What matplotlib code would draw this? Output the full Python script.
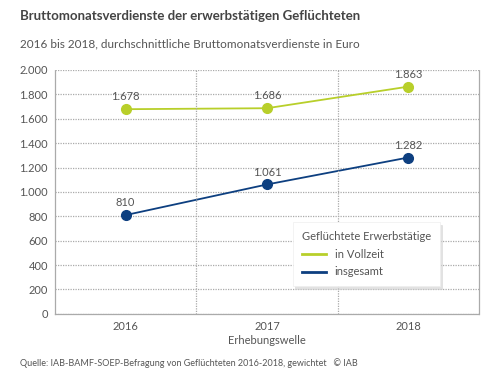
import numpy as np
import matplotlib
matplotlib.use("Agg")
import matplotlib.pyplot as plt
from matplotlib.ticker import FuncFormatter

matplotlib.rcParams.update({
    "font.family": "Lato",
    "font.size": 8,
    "text.color": "#555555",
    "axes.labelcolor": "#555555",
    "xtick.color": "#555555",
    "ytick.color": "#555555",
})

years = ["2016", "2017", "2018"]
vollzeit = [1678, 1686, 1863]
insgesamt = [810, 1061, 1282]
y_ticks = [0, 200, 400, 600, 800, 1000, 1200, 1400, 1600, 1800, 2000]

GREEN = "#b8cf2a"
BLUE = "#0d3f80"
GRID = "#aaaaaa"


def de_fmt(v, pos=None):
    return f"{int(v):,}".replace(",", ".")


fig = plt.figure(figsize=(5, 3.8), dpi=100)
ax = fig.add_axes([0.11, 0.174, 0.848, 0.642])

x = np.arange(len(years))
ax.plot(x, vollzeit, color=GREEN, linewidth=1.3, marker="o", markersize=7, label="in Vollzeit")
ax.plot(x, insgesamt, color=BLUE, linewidth=1.3, marker="o", markersize=7, label="insgesamt")

for xi, v in zip(x, vollzeit):
    ax.annotate(de_fmt(v), (xi, v), xytext=(0, 5), textcoords="offset points",
                ha="center", va="bottom", fontsize=8)
for xi, v in zip(x, insgesamt):
    ax.annotate(de_fmt(v), (xi, v), xytext=(0, 5), textcoords="offset points",
                ha="center", va="bottom", fontsize=8)

ax.set_xlim(-0.5, 2.5)
ax.set_ylim(0, 2000)
ax.set_yticks(y_ticks)
ax.yaxis.set_major_formatter(FuncFormatter(de_fmt))
ax.set_xticks(x)
ax.set_xticklabels(years)
ax.tick_params(length=0, labelsize=8, pad=5)
ax.set_xlabel("Erhebungswelle", fontsize=8, labelpad=2)

ax.grid(axis="y", color=GRID, linestyle=(0, (1, 1)), linewidth=0.9)
for b in [0.5, 1.5]:
    ax.axvline(b, color=GRID, linestyle=(0, (1, 1)), linewidth=0.9)
for side in ["left", "right", "bottom"]:
    ax.spines[side].set_color(GRID)
    ax.spines[side].set_linestyle((0, (1, 1)))
    ax.spines[side].set_linewidth(0.9)
ax.spines["top"].set_visible(False)
ax.set_axisbelow(True)

leg = ax.legend(title="Geflüchtete Erwerbstätige", loc="lower right",
                bbox_to_anchor=(0.92, 0.09), fontsize=8, title_fontsize=8,
                frameon=True, fancybox=False,
                shadow={"color": "#d0d0d0", "alpha": 0.6, "ox": 2, "oy": -2},
                handlelength=2.2, borderpad=0.8, labelspacing=0.6, alignment="left")
leg.get_frame().set_edgecolor("#eeeeee")
leg.get_frame().set_linewidth(0.5)
for line in leg.get_lines():
    line.set_marker("")
    line.set_linewidth(2)

fig.text(0.04, 0.958, "Bruttomonatsverdienste der erwerbstätigen Geflüchteten",
         fontsize=9.5, fontweight="bold", color="#444444", va="center")
fig.text(0.04, 0.885, "2016 bis 2018, durchschnittliche Bruttomonatsverdienste in Euro",
         fontsize=8.5, color="#555555", va="center")
fig.text(0.04, 0.045, "Quelle: IAB-BAMF-SOEP-Befragung von Geflüchteten 2016-2018, gewichtet   © IAB",
         fontsize=6.5, color="#555555", va="center")

fig.savefig("out.png", dpi=100)
